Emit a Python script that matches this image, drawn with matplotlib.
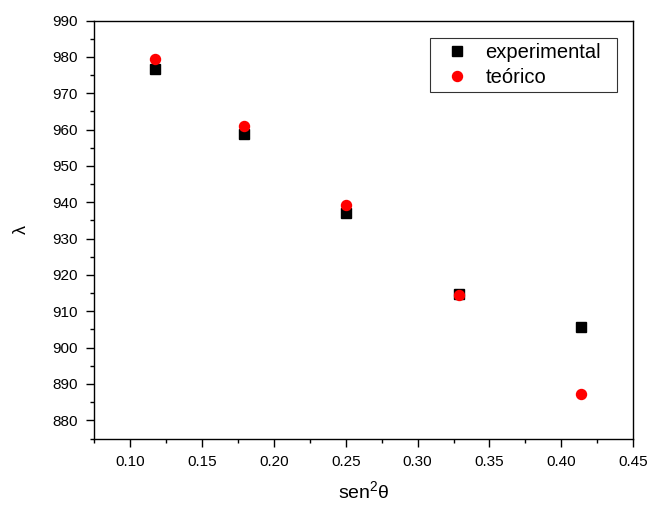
import matplotlib
matplotlib.use("Agg")
import matplotlib.pyplot as plt
from matplotlib.ticker import MultipleLocator

plt.rcParams['font.family'] = ['Liberation Sans', 'DejaVu Sans']
plt.rcParams['mathtext.fontset'] = 'custom'
plt.rcParams['mathtext.rm'] = 'Liberation Sans'
plt.rcParams['mathtext.it'] = 'Liberation Sans:italic'

# sen^2(theta) values and wavelengths
sen2 = [0.117, 0.179, 0.250, 0.329, 0.414]
lambda_exp = [976.6, 958.8, 937.1, 914.8, 905.8]
lambda_teo = [979.5, 961.0, 939.3, 914.5, 887.3]

fig = plt.figure(figsize=(6.52, 5.08), dpi=100)
ax = fig.add_axes([94.2 / 652, 69.5 / 508, 539 / 652, 418 / 508])

ax.plot(sen2, lambda_exp, linestyle='none', marker='s', markersize=6.5,
        color='black', label='experimental')
ax.plot(sen2, lambda_teo, linestyle='none', marker='o', markersize=7.2,
        color='red', markeredgecolor='red', label='teórico')

ax.set_xlim(0.075, 0.45)
ax.set_ylim(875, 990)
ax.xaxis.set_major_locator(MultipleLocator(0.05))
ax.xaxis.set_minor_locator(MultipleLocator(0.025))
ax.yaxis.set_major_locator(MultipleLocator(10))
ax.yaxis.set_minor_locator(MultipleLocator(5))
ax.xaxis.set_major_formatter(plt.FormatStrFormatter('%.2f'))

ax.tick_params(which='major', direction='out', length=6, width=1, labelsize=11,
               pad=6, top=False, right=False)
ax.tick_params(which='minor', direction='out', length=3, width=1,
               top=False, right=False)
for s in ax.spines.values():
    s.set_linewidth(1.0)
    s.set_color('black')

ax.set_xlabel(r'sen$^{\mathrm{2}}$θ', fontsize=14, labelpad=8)
ax.set_ylabel('λ', fontsize=13, labelpad=16)

leg = ax.legend(loc='upper right', bbox_to_anchor=(0.623, 0.0, 0.347, 0.959),
                mode='expand', fontsize=14.5,
                frameon=True, fancybox=False, edgecolor='black',
                handletextpad=0.3, borderpad=0.25, labelspacing=0.3,
                handlelength=2.2, borderaxespad=0, markerscale=1.0)
leg.get_frame().set_linewidth(0.8)

fig.savefig('out.png', dpi=100)
